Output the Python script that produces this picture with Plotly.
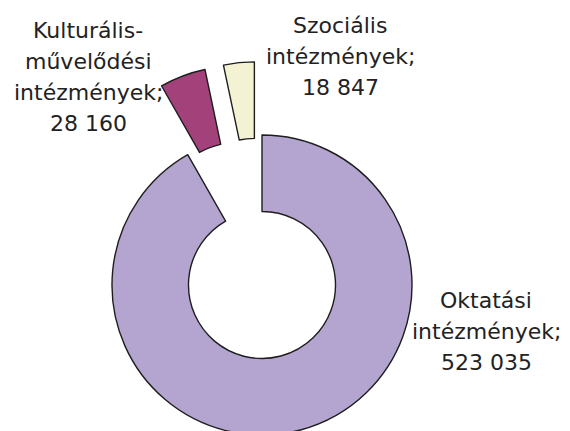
import math
import plotly.graph_objects as go

# ---- data ----
categories = ["Oktatási intézmények", "Kulturális-művelődési intézmények", "Szociális intézmények"]
values = [523035, 28160, 18847]
label_lines = [
    ["Oktatási", "intézmények;"],
    ["Kulturális-", "művelődési", "intézmények;"],
    ["Szociális", "intézmények;"],
]

# ---- styling / layout ----
colors = ["#B4A4D0", "#A3417B", "#F3F3D3"]
pulls = [0.0, 0.49, 0.49]
W, H = 570, 431
OFF = 8             # page body margin: figure starts 8px right/down on screen
CX, CY = 262, 285   # donut centre in screen pixels (from top-left)
R = 150             # outer radius in pixels
HOLE = 0.49
LINE_COLOR = "#1e1e1e"
FONT = dict(family="DejaVu Sans", size=22, color="#222222")
# label blocks: centre x and baseline of first line (screen px), line spacing
label_pos = [(486, 308), (88, 38), (340, 33)]
LINE_GAP = 31

total = sum(values)
fig = go.Figure()
cum = 0.0
for i, v in enumerate(values):
    frac = v / total
    mid = 2 * math.pi * (cum + frac / 2)
    cum += frac
    dx = pulls[i] * R * math.sin(mid)
    dy = -pulls[i] * R * math.cos(mid)
    cx, cy = CX - OFF + dx, CY - OFF + dy
    dom_x = [max(0, (cx - R) / W), min(1, (cx + R) / W)]
    dom_y = [max(0, (H - cy - R) / H), min(1, (H - cy + R) / H)]
    fig.add_trace(go.Pie(
        labels=categories,
        values=values,
        sort=False,
        direction="clockwise",
        rotation=0,
        hole=HOLE,
        domain=dict(x=dom_x, y=dom_y),
        marker=dict(
            colors=[colors[j] if j == i else "rgba(0,0,0,0)" for j in range(len(values))],
            line=dict(color=[LINE_COLOR if j == i else "rgba(0,0,0,0)" for j in range(len(values))],
                      width=[1.4 if j == i else 0 for j in range(len(values))]),
        ),
        textinfo="none",
        hoverinfo="label+value",
        showlegend=False,
    ))

annotations = []
for i, v in enumerate(values):
    lines = label_lines[i] + [f"{v:,}".replace(",", " ")]
    x0, b0 = label_pos[i]
    for k, txt in enumerate(lines):
        baseline = b0 + k * LINE_GAP - OFF
        yc = baseline - 0.346 * FONT["size"]
        annotations.append(dict(
            text=txt, x=(x0 - OFF) / W, y=1 - yc / H, xref="paper", yref="paper",
            xanchor="center", yanchor="middle", showarrow=False, font=FONT,
        ))

fig.update_layout(
    width=W, height=H,
    margin=dict(l=0, r=0, t=0, b=0),
    paper_bgcolor="white", plot_bgcolor="white",
    annotations=annotations,
)
fig.write_html("out.html")
